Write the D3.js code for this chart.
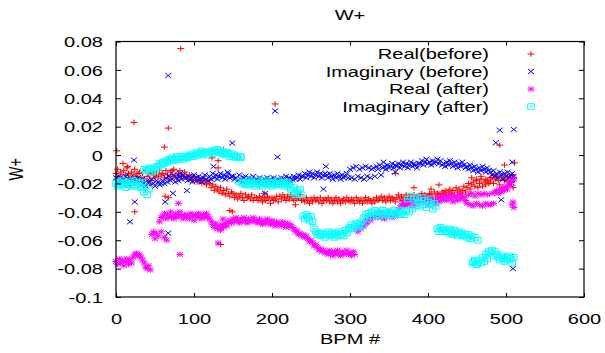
<!DOCTYPE html>
<html><head><meta charset="utf-8">
<script src="https://cdn.jsdelivr.net/npm/d3@7"></script>
<style>
body{margin:0;background:#fff}
svg{display:block}
text{font-family:"Liberation Sans",Arial,sans-serif;fill:#000}
</style>
</head><body>
<svg id="c" width="605" height="353"></svg>
<script>
// ---------------- DATA (values in units of 1e-3) ----------------
const bpmStep = 2;               // band samples every 2 BPM, BPM 0..510
const title = "W+";
const xLabel = "BPM #";
const yLabel = "W+";
const xTicks = [0, 100, 200, 300, 400, 500, 600];
const yTicks = [0.08, 0.06, 0.04, 0.02, 0, -0.02, -0.04, -0.06, -0.08, -0.1];
const yTickLabels = ["0.08", "0.06", "0.04", "0.02", "0", "-0.02", "-0.04", "-0.06", "-0.08", "-0.1"];
const seriesNames = ["Real(before)", "Imaginary (before)", "Real (after)", "Imaginary (after)"];

const realBefore = [
  -13,-10,-15,-12,-16,-11,-14,-9,-13,-16,-12,-14,-10,-15,-13,
  -12,-16,-13,-17,-11,-15,-13,-18,-12,-14,-16,-13,-15,-11,-14,
  -13,-16,-11,-14,-17,-12,-15,-10,-14,-16,-13,-11,-15,-14,-12,
  -15,-17,-14,-16,-18,-15,-17,-19,-16,-18,-20,-17,-19,-21,-18,
  -20,-23,-21,-25,-22,-24,-26,-23,-27,-25,-28,-24,-27,-29,-26,
  -27,-30,-28,-31,-29,-27,-30,-32,-28,-30,-29,-31,-28,-32,-30,
  -30,-32,-29,-31,-33,-30,-32,-29,-31,-34,-30,-32,-31,-29,-33,
  -29,-31,-28,-30,-32,-29,-31,-28,-30,-32,-29,-31,-30,-28,-32,
  -31,-33,-30,-32,-34,-31,-33,-30,-32,-31,-33,-30,-34,-32,-31,
  -32,-30,-33,-31,-34,-32,-30,-33,-31,-34,-32,-31,-33,-30,-32,
  -33,-31,-32,-34,-30,-32,-33,-31,-34,-32,-30,-33,-31,-32,-34,
  -31,-33,-30,-32,-31,-29,-32,-30,-33,-31,-29,-32,-30,-31,-33,
  -30,-28,-31,-29,-32,-30,-28,-31,-29,-30,-32,-28,-30,-29,-31,
  -29,-27,-30,-28,-31,-29,-27,-28,-30,-26,-29,-27,-28,-30,-26,
  -27,-25,-28,-26,-24,-27,-25,-28,-23,-26,-24,-27,-25,-22,-26,
  -23,-20,-24,-21,-19,-22,-18,-23,-20,-17,-22,-19,-21,-18,-20,
  -19,-16,-20,-17,-15,-18,-21,-16,-14,-18,-17,-15,-19,-16,-14,
  -16
];
const realBeforeOutliers = [
  [83,75],[23,23],[67,19],[62,5.6],[1,3],[138,4],[9,-6],[123,-2],[131,-4],[131,-9],
  [204,36],[492,7],[498,-7],[511,-5.5],[509,-23],[24,-40],[149,-40],[134,-63],[137,-51],
  [72,-11],[63,-29],[67,-30],[146,-39],[230,-35],[190,-27],[414,-21],[358,-13],
  [382,-23],[404,-24],[456,-16],[462,-17],[468,-15],[474,-17],[480,-16],[486,-14],[15,-8]
];

const imagBefore = [
  -16,-19,-15,-18,-20,-17,-15,-19,-21,-16,-18,-20,-17,-19,-16,
  -18,-21,-17,-20,-22,-18,-19,-21,-17,-20,-22,-18,-19,-21,-20,
  -18,-20,-16,-19,-15,-18,-17,-14,-19,-16,-18,-15,-17,-14,-16,
  -16,-18,-15,-17,-19,-14,-16,-18,-15,-17,-19,-16,-14,-17,-18,
  -15,-17,-13,-16,-14,-17,-15,-13,-16,-14,-17,-15,-13,-16,-15,
  -15,-17,-16,-18,-14,-17,-19,-16,-15,-18,-16,-19,-17,-15,-18,
  -17,-19,-16,-18,-20,-17,-19,-16,-18,-17,-19,-16,-18,-20,-17,
  -18,-16,-19,-17,-15,-18,-16,-19,-17,-15,-17,-16,-14,-17,-15,
  -15,-13,-16,-14,-12,-15,-13,-16,-14,-12,-15,-13,-16,-14,-13,
  -14,-16,-13,-15,-17,-14,-16,-13,-15,-17,-14,-16,-15,-13,-16,
  -10,-16,-9,-17,-8,-15,-10,-16,-9,-17,-8,-15,-9,-16,-10,
  -9,-15,-8,-10,-7,-14,-9,-8,-10,-7,-9,-8,-6,-9,-7,
  -8,-6,-9,-7,-5,-8,-6,-9,-7,-5,-8,-6,-7,-9,-6,
  -6,-4,-7,-5,-3,-6,-5,-7,-4,-6,-5,-3,-6,-4,-7,
  -6,-8,-5,-7,-4,-6,-8,-5,-7,-9,-6,-8,-5,-7,-9,
  -8,-10,-7,-9,-11,-8,-10,-12,-9,-11,-8,-10,-12,-9,-11,
  -12,-14,-11,-15,-13,-16,-12,-14,-17,-13,-15,-12,-16,-14,-13,
  -15
];
const imagBeforeOutliers = [
  [67,56],[23,-3.5],[149,8.4],[125,-8],[204,31],[207,-1.4],[269,-8],[492,17.5],[510,18],
  [487,8.7],[508,-5],[494,-31.5],[509,-80],[508,-20],[24,-33],[18,-47],[67,-55],[63,-33],
  [82,-13],[143,-12],[73,-27],[91,-25],[191,-27],[266,-24],[343,-5],[358,-12],[506,-21]
];

const realAfter = [
  -75,-77,-73,-76,-74,-78,-75,-73,-77,-74,-76,-72,-70,-69,-71,
  -70,-72,-74,-76,-79,-80,-78,-81,-56,-54,-59,-55,-57,-47,-44,
  -43,-41,-45,-42,-44,-40,-43,-45,-41,-44,-42,-40,-43,-45,-42,
  -44,-42,-45,-41,-43,-46,-42,-44,-41,-43,-45,-42,-44,-41,-43,
  -45,-47,-49,-51,-48,-52,-50,-53,-49,-51,-48,-50,-47,-46,-48,
  -45,-47,-44,-46,-48,-45,-47,-44,-46,-48,-45,-47,-46,-44,-47,
  -46,-48,-45,-47,-49,-46,-48,-45,-47,-49,-46,-48,-50,-47,-49,
  -48,-50,-47,-49,-51,-48,-50,-49,-51,-52,-54,-53,-56,-55,-57,
  -56,-58,-57,-59,-61,-60,-62,-64,-63,-65,-67,-66,-68,-67,-69,
  -68,-70,-67,-69,-71,-68,-70,-67,-69,-71,-68,-70,-69,-67,-70,
  -69,-71,-68,-70,-52,-54,-50,-52,-48,-50,-46,-48,-44,-46,-43,
  -42,-44,-41,-43,-40,-44,-42,-45,-41,-43,-40,-42,-44,-41,-43,
  -41,-39,-37,-35,-34,-36,-33,-35,-34,-32,-36,-33,-35,-31,-34,
  -33,-31,-34,-30,-32,-35,-31,-33,-30,-32,-34,-31,-33,-29,-32,
  -31,-29,-32,-30,-28,-31,-33,-29,-30,-32,-28,-31,-29,-30,-32,
  -34,-28,-35,-27,-36,-29,-34,-27,-35,-28,-36,-27,-34,-28,-35,
  -35,-27,-34,-26,-25,-27,-24,-26,-23,-25,-22,-24,-21,-19,-18,
  -17
];
const realAfterOutliers = [
  [82,-70],[65,-60],[80,-34],[131,-62],[137,-45],[58,-54],[62,-58],[508,-35],[509,-33],[510,-37]
];

const imagAfter = [
  -20,-22,-19,-21,-18,-20,-23,-19,-21,-20,-22,-18,-21,-19,-22,
  -20,-23,-19,-26,-11,-28,-24,-10,-12,-9,-11,-8,-9,-6,-7,
  -5,-6,-4,-5,-3,-4,-2,-4,-3,-1,-3,-2,-1,-3,-2,
  -1,-2,0,-1,1,-1,0,2,0,1,3,1,2,0,2,
  2,3,1,3,2,4,2,3,1,2,0,2,1,-1,1,
  -1,0,-2,-1,-19,-2,-20,-19,-21,-20,-18,-21,-19,-20,-22,
  -20,-18,-21,-19,-22,-20,-18,-21,-19,-20,-22,-19,-21,-20,-18,
  -20,-21,-19,-22,-20,-19,-21,-24,-26,-23,-28,-25,-27,-24,-28,
  -43,-45,-42,-44,-46,-43,-47,-52,-54,-56,-55,-57,-55,-56,-58,
  -56,-54,-57,-55,-56,-58,-55,-57,-54,-56,-55,-57,-53,-55,-52,
  -51,-49,-52,-50,-48,-51,-49,-47,-50,-44,-42,-45,-41,-43,-40,
  -41,-39,-42,-40,-43,-41,-39,-42,-40,-41,-43,-40,-42,-39,-41,
  -40,-42,-39,-41,-40,-42,-39,-31,-40,-29,-38,-31,-36,-30,-33,
  -36,-30,-35,-32,-37,-33,-35,-31,-38,-34,-36,-52,-54,-51,-53,
  -52,-54,-53,-55,-52,-54,-56,-53,-55,-57,-54,-56,-55,-57,-56,
  -58,-56,-59,-57,-75,-58,-77,-60,-74,-76,-72,-75,-70,-73,-68,
  -69,-67,-71,-68,-70,-72,-74,-71,-73,-75,-72,-74,-71,-73,-76,
  -72
];
const imagAfterOutliers = [
  [457,-76],[460,-74],[463,-77],[160,-1],[42,-9],[36,-10]
];

// ---------------- DRAWING ----------------
const FS = 20, SY = 0.735;       // font size and vertical squash of the reference raster
const svg = d3.select("#c");
const x = d3.scaleLinear().domain([0, 600]).range([116, 584]);
const y = d3.scaleLinear().domain([-0.1, 0.08]).range([297, 41.5]);
const bpm = realBefore.map((_, i) => i * bpmStep);

const glyphs = {
  plus:   "M-3.5,0H3.5M0,-2.8V2.8",
  cross:  "M-3,-2.5L3,2.5M-3,2.5L3,-2.5",
  star:   "M-3.5,0H3.5M0,-2.8V2.8M-3,-2.4L3,2.4M-3,2.4L3,-2.4",
  square: "M-3.3,-2.8h6.6v5.6h-6.6zM-0.4,-0.4h0.8v0.8h-0.8z"
};
const series = [
  {name: seriesNames[0], vals: realBefore, extra: realBeforeOutliers, color: "#ff0000", glyph: "plus"},
  {name: seriesNames[1], vals: imagBefore, extra: imagBeforeOutliers, color: "#0000ff", glyph: "cross"},
  {name: seriesNames[2], vals: realAfter,  extra: realAfterOutliers,  color: "#ff00ff", glyph: "star"},
  {name: seriesNames[3], vals: imagAfter,  extra: imagAfterOutliers,  color: "#00ffff", glyph: "square"}
];

function addText(g, str, tx, ty, anchor, rot) {
  return g.append("text")
    .attr("transform", `translate(${tx},${ty}) scale(1,${SY})` + (rot ? ` rotate(${rot})` : ""))
    .attr("text-anchor", anchor)
    .attr("font-size", FS)
    .text(str);
}

// points
const plot = svg.append("g");
series.forEach(s => {
  const pts = s.vals.map((v, i) => ({b: bpm[i], v})).filter(d => d.v != null)
    .concat(s.extra.map(([b, v]) => ({b, v})));
  plot.append("g").selectAll("path").data(pts).join("path")
    .attr("d", glyphs[s.glyph])
    .attr("transform", d => `translate(${x(d.b)},${y(d.v / 1000)})`)
    .attr("fill", "none").attr("stroke", s.color).attr("stroke-width", 1);
});

// axes (gnuplot style: inward ticks, mirrored)
const axL = svg.append("g").attr("transform", `translate(${x(0)},0)`)
  .call(d3.axisLeft(y).tickValues(yTicks).tickSizeInner(-5).tickSizeOuter(0)
    .tickFormat((d, i) => yTickLabels[i]));
const axR = svg.append("g").attr("transform", `translate(${x(600)},0)`)
  .call(d3.axisRight(y).tickValues(yTicks).tickSizeInner(-5).tickSizeOuter(0).tickFormat(""));
const axB = svg.append("g").attr("transform", `translate(0,${y(-0.1)})`)
  .call(d3.axisBottom(x).tickValues(xTicks).tickSizeInner(-4).tickSizeOuter(0).tickFormat(d3.format("d")));
const axT = svg.append("g").attr("transform", `translate(0,${y(0.08)})`)
  .call(d3.axisTop(x).tickValues(xTicks).tickSizeInner(-4).tickSizeOuter(0).tickFormat(""));
[axL, axR, axB, axT].forEach(a => {
  a.select(".domain").remove();
  a.selectAll(".tick line").attr("stroke", "#000").attr("stroke-width", 1);
  a.attr("font-family", null).attr("font-size", null);
});
axL.selectAll(".tick text").attr("x", null).attr("dy", "0.36em")
  .attr("transform", `translate(-13,0) scale(1,${SY})`).attr("font-size", FS);
axB.selectAll(".tick text").attr("y", null).attr("dy", null)
  .attr("transform", `translate(0,26.5) scale(1,${SY})`).attr("font-size", FS);
axR.selectAll(".tick text").remove();
axT.selectAll(".tick text").remove();

// frame
svg.append("rect").attr("x", x(0)).attr("y", y(0.08))
  .attr("width", x(600) - x(0)).attr("height", y(-0.1) - y(0.08))
  .attr("fill", "none").attr("stroke", "#000").attr("stroke-width", 1.2);

// titles
addText(svg, title, (x(0) + x(600)) / 2, 19.5, "middle");
addText(svg, xLabel, (x(0) + x(600)) / 2, 343.5, "middle");
addText(svg, yLabel, 23, (y(0.08) + y(-0.1)) / 2, "middle", -90);

// legend
const leg = svg.append("g");
series.forEach((s, i) => {
  const cy = 54 + i * 17.5;
  addText(leg, s.name, 489, cy + 5.2, "end");
  leg.append("path").attr("d", glyphs[s.glyph])
    .attr("transform", `translate(531,${cy})`)
    .attr("fill", "none").attr("stroke", s.color).attr("stroke-width", 1);
});
</script>
</body></html>
